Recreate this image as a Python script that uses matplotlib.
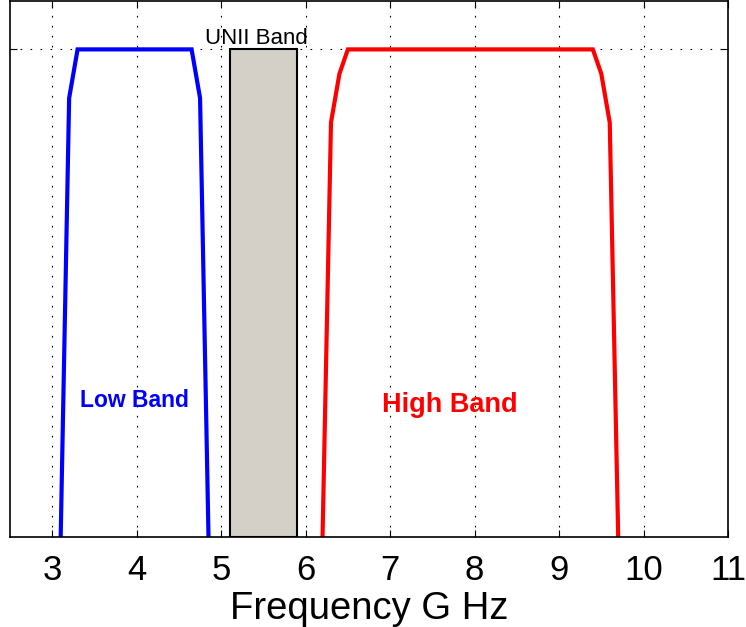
import matplotlib
matplotlib.use("Agg")
import matplotlib.pyplot as plt

# Data (frequency in GHz, relative level in dB)
low_freq = [3.1, 3.2, 3.3, 4.65, 4.75, 4.85]
low_level = [-10, -1, 0, 0, -1, -10]
high_freq = [6.2, 6.3, 6.4, 6.5, 9.4, 9.5, 9.6, 9.7]
high_level = [-10, -1.5, -0.5, 0, 0, -0.5, -1.5, -10]
unii_lo, unii_hi = 5.1, 5.9
unii_top = 0
xticks = [3, 4, 5, 6, 7, 8, 9, 10, 11]

plt.rcParams['font.family'] = ['Liberation Sans', 'DejaVu Sans']
plt.rcParams['lines.scale_dashes'] = False

fig = plt.figure(figsize=(7.46, 6.27), dpi=100)
ax = fig.add_axes([10/746, 1-537/627, 718/746, 537/627 - 0.001])

ymin, ymax = -10, 1
ax.set_xlim(2.5, 11)
ax.set_ylim(ymin, ymax)

ax.bar((unii_lo+unii_hi)/2, unii_top - ymin, bottom=ymin, width=unii_hi-unii_lo,
       color='#d4d0c8', edgecolor='black', linewidth=1.5, zorder=2)

ax.plot(low_freq, low_level, color='#0000ff', lw=3, zorder=3, clip_on=True,
        solid_joinstyle='miter')
ax.plot(high_freq, high_level, color='#ff0000', lw=3, zorder=3, clip_on=True,
        solid_joinstyle='miter')

ax.set_xticks(xticks)
ax.set_xticklabels([str(t) for t in xticks], fontsize=25)
ax.set_yticks([0])
ax.set_yticklabels([])
ax.grid(True, color='black', linestyle=(0, (1.2, 6)), linewidth=0.8, zorder=1)
ax.set_axisbelow(True)
ax.tick_params(axis='both', direction='in', length=5, width=0.8, top=True, right=True,
               pad=12, color='black')
for s in ax.spines.values():
    s.set_linewidth(1.2)
    s.set_zorder(5)

ax.set_xlabel('Frequency G Hz', fontsize=27.5, labelpad=3)

ax.text(5.42, 0.12, 'UNII Band', fontsize=16, ha='center', va='baseline', color='black')
ax.text(3.97, -7.2, 'Low Band', fontsize=16.5, fontweight='bold', color='#0000ff',
        ha='center', va='center')
ax.text(7.71, -7.3, 'High Band', fontsize=19.5, fontweight='bold', color='#ff0000',
        ha='center', va='center')

fig.savefig('out.png', dpi=100)
